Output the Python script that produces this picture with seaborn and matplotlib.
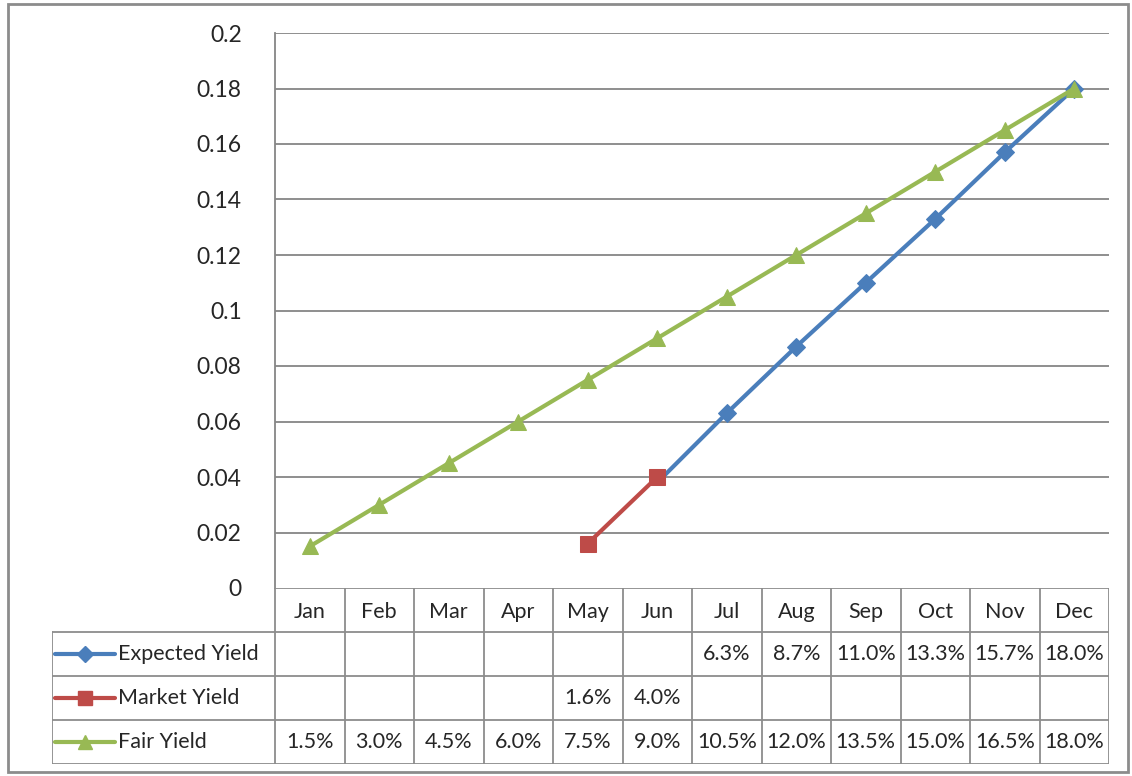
import numpy as np
import pandas as pd
import matplotlib
matplotlib.use("Agg")
import matplotlib.pyplot as plt
import seaborn as sns
from matplotlib.lines import Line2D
from matplotlib.patches import Rectangle

# ----------------------------
# Data
# ----------------------------
months = ["Jan", "Feb", "Mar", "Apr", "May", "Jun",
          "Jul", "Aug", "Sep", "Oct", "Nov", "Dec"]
expected_yield = [None, None, None, None, None, None,
                  0.063, 0.087, 0.110, 0.133, 0.157, 0.180]
market_yield = [None, None, None, None, 0.016, 0.040,
                None, None, None, None, None, None]
fair_yield = [0.015, 0.030, 0.045, 0.060, 0.075, 0.090,
              0.105, 0.120, 0.135, 0.150, 0.165, 0.180]
series_names = ["Expected Yield", "Market Yield", "Fair Yield"]
y_ticks = [0, 0.02, 0.04, 0.06, 0.08, 0.1, 0.12, 0.14, 0.16, 0.18, 0.2]

colors = {"Expected Yield": "#4A7EBB", "Market Yield": "#BE4B48", "Fair Yield": "#98B954"}
markers = {"Expected Yield": "D", "Market Yield": "s", "Fair Yield": "^"}
msizes = {"Expected Yield": 9, "Market Yield": 11, "Fair Yield": 11}

df = pd.DataFrame({
    "Month": months * 3,
    "x": list(range(12)) * 3,
    "Series": [s for s in series_names for _ in months],
    "Value": expected_yield + market_yield + fair_yield,
}).dropna()

sns.set_style("white")
plt.rcParams["font.family"] = ["Lato", "DejaVu Sans"]

W, H = 1132, 776
fig = plt.figure(figsize=(W / 100, H / 100), dpi=100)

# plot area in pixels
px_l, px_r, px_t, px_b = 275, 1109, 33, 588
ax = fig.add_axes([px_l / W, 1 - px_b / H, (px_r - px_l) / W, (px_b - px_t) / H])

grid_c = "#868686"
for yt in y_ticks[1:]:
    ax.axhline(yt, color=grid_c, lw=1.3, zorder=0)

for s in series_names:
    d = df[df["Series"] == s]
    sns.lineplot(data=d, x="x", y="Value", ax=ax, color=colors[s], lw=3,
                 marker=markers[s], markersize=msizes[s], markeredgecolor=colors[s],
                 legend=False, zorder=3)

# connector drawn between market and expected series
ax.plot([5, 6], [0.038, expected_yield[6]], color=colors["Expected Yield"], lw=3, zorder=2)

ax.set_xlim(-0.5, 11.5)
ax.set_ylim(0, 0.2)
ax.set_yticks(y_ticks)
ax.set_yticklabels(["0"] + [f"{v:g}" for v in y_ticks[1:]], fontsize=16.5)
ax.tick_params(axis="y", length=0, pad=24)
ax.set_xticks([])
ax.set_xlabel("")
ax.set_ylabel("")
for side in ["top", "right", "bottom"]:
    ax.spines[side].set_visible(False)
ax.spines["left"].set_color(grid_c)
ax.spines["left"].set_linewidth(1.3)

# ----------------------------
# Data table below the chart
# ----------------------------
tbl_l, tbl_b = 52, 764
tax = fig.add_axes([tbl_l / W, 1 - tbl_b / H, (px_r - tbl_l) / W, (tbl_b - px_b) / H])
col_w = (px_r - px_l) / 12
legend_w = (px_l - tbl_l) / col_w
tax.set_xlim(-0.5 - legend_w, 11.5)
tax.set_ylim(4, 0)
tax.axis("off")

lc = "#8c8c8c"
lw = 1.3
tax.plot([-0.5, 11.5], [0, 0], color=lc, lw=lw)
for i in range(13):
    tax.plot([i - 0.5, i - 0.5], [0, 4], color=lc, lw=lw)
tax.plot([-0.5 - legend_w, -0.5 - legend_w], [1, 4], color=lc, lw=lw)
for r in [1, 2, 3, 4]:
    tax.plot([-0.5 - legend_w, 11.5], [r, r], color=lc, lw=lw)

for i, m in enumerate(months):
    tax.text(i, 0.55, m, ha="center", va="center", fontsize=15.5)

values = [expected_yield, market_yield, fair_yield]
for r, (s, vals) in enumerate(zip(series_names, values), start=1):
    for i, v in enumerate(vals):
        if v is not None:
            tax.text(i, r + 0.5, f"{v * 100:.1f}%", ha="center", va="center", fontsize=15.5)
    x0 = -0.5 - legend_w + 0.05
    tax.add_line(Line2D([x0, x0 + 0.85], [r + 0.5, r + 0.5], color=colors[s], lw=3,
                        solid_capstyle="round"))
    tax.plot([x0 + 0.425], [r + 0.5], marker=markers[s], color=colors[s],
             markersize=msizes[s] - 1, markeredgecolor=colors[s])
    tax.text(x0 + 0.9, r + 0.5, s, ha="left", va="center", fontsize=15.5)

# outer border
fig.patches.append(Rectangle((8 / W, 4 / H), 1120 / W, 768 / H, transform=fig.transFigure,
                             fill=False, edgecolor="#8c8c8c", lw=2))

fig.savefig("out.png", dpi=100)
